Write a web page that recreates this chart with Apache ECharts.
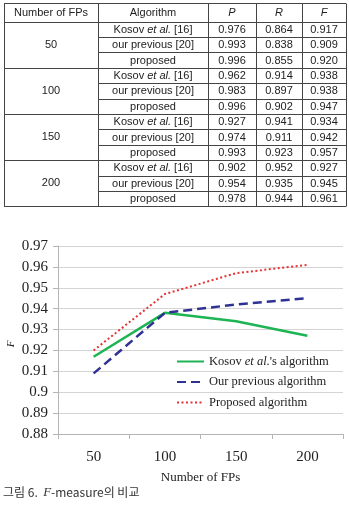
<!DOCTYPE html>
<html><head><meta charset="utf-8">
<script src="https://cdn.jsdelivr.net/npm/echarts@6/dist/echarts.min.js"></script>
<style>html,body{margin:0;padding:0;background:#fff}#c{width:349px;height:512px}</style>
</head><body><div id="c"></div>
<script>
// ---- data ----
const fpCounts = ['50', '100', '150', '200'];
const algoLabels = ['Kosov {i|et al.} [16]', 'our previous [20]', 'proposed'];
const tableP = [[0.976, 0.993, 0.996], [0.962, 0.983, 0.996], [0.927, 0.974, 0.993], [0.902, 0.954, 0.978]];
const tableR = [[0.864, 0.838, 0.855], [0.914, 0.897, 0.902], [0.941, 0.911, 0.923], [0.952, 0.935, 0.944]];
const tableF = [[0.917, 0.909, 0.920], [0.938, 0.938, 0.947], [0.934, 0.942, 0.957], [0.927, 0.945, 0.961]];
const headers = ['Number of FPs', 'Algorithm', 'P', 'R', 'F'];
const kosovF = [0.917, 0.938, 0.934, 0.927];
const previousF = [0.909, 0.938, 0.942, 0.945];
const proposedF = [0.920, 0.947, 0.957, 0.961];
const seriesNames = ['Kosov et al.\'s algorithm', 'Our previous algorithm', 'Proposed algorithm'];
const yTicks = [0.88, 0.89, 0.90, 0.91, 0.92, 0.93, 0.94, 0.95, 0.96, 0.97];
const yAxisName = 'F';

// ---- table layout ----
const colX = [4, 98, 208, 256, 302, 346];
const top0 = 3, headH = 18.5, rowH = 15.4;
const tFont = '11px "Liberation Sans", Arial, sans-serif';
const g = [];
const nRows = fpCounts.length * algoLabels.length;
const bottom = top0 + headH + nRows * rowH;
const lineStyle = { stroke: '#444', lineWidth: 1 };
function hline(x1, x2, y) { g.push({ type: 'line', shape: { x1, y1: Math.round(y) + 0.5, x2, y2: Math.round(y) + 0.5 }, style: lineStyle, silent: true }); }
function vline(x, y1, y2) { g.push({ type: 'line', shape: { x1: x + 0.5, y1: Math.round(y1) + 0.5, x2: x + 0.5, y2: Math.round(y2) + 0.5 }, style: lineStyle, silent: true }); }
function txt(text, cx, cy, italic) {
  g.push({ type: 'text', x: cx, y: cy, silent: true,
    style: { text, font: (italic ? 'italic ' : '') + tFont, fill: '#222', align: 'center', verticalAlign: 'middle',
      rich: { i: { font: 'italic ' + tFont, fill: '#222' } } } });
}
hline(colX[0], colX[5], top0);
hline(colX[0], colX[5], top0 + headH);
colX.forEach(x => vline(x, top0, bottom));
headers.forEach((h, i) => txt(h, (colX[i] + colX[i + 1]) / 2, top0 + headH / 2 + 0.5, i >= 2));
fpCounts.forEach((fp, gi) => {
  const gy = top0 + headH + gi * algoLabels.length * rowH;
  txt(fp, (colX[0] + colX[1]) / 2, gy + rowH * 1.5);
  hline(colX[0], colX[5], gy + algoLabels.length * rowH);
  algoLabels.forEach((a, ai) => {
    const ry = gy + ai * rowH;
    if (ai > 0) hline(colX[1], colX[5], ry);
    const cy = ry + rowH / 2 + 0.5;
    txt(a, (colX[1] + colX[2]) / 2, cy);
    txt(tableP[gi][ai].toFixed(3), (colX[2] + colX[3]) / 2, cy);
    txt(tableR[gi][ai].toFixed(3), (colX[3] + colX[4]) / 2, cy);
    txt(tableF[gi][ai].toFixed(3), (colX[4] + colX[5]) / 2, cy);
  });
});
const serif = '"Liberation Serif", "Times New Roman", serif';
// y-axis title (rotated)
g.push({ type: 'text', x: 11, y: 344, rotation: Math.PI / 2, silent: true,
  style: { text: yAxisName, font: 'italic 11px ' + serif, fill: '#222', align: 'center', verticalAlign: 'middle' } });
// caption
g.push({ type: 'text', left: 3, top: 486, silent: true,
  style: { text: '{k|그림 6.  }{f|F}{k|-measure의 비교}',
    rich: { k: { font: '12px "Noto Sans CJK KR", sans-serif', fill: '#333' },
            f: { font: 'italic 13px "Liberation Serif", serif', fill: '#333' } } } });

const chart = echarts.init(document.getElementById('c'), null, { renderer: 'canvas' });
chart.setOption({
  animation: false,
  backgroundColor: '#fff',
  graphic: g,
  grid: { left: 58, right: 6, top: 246, bottom: 78, containLabel: false, outerBoundsMode: 'none' },
  xAxis: {
    type: 'category', data: fpCounts, boundaryGap: true,
    name: 'Number of FPs', nameLocation: 'middle', nameGap: 37,
    nameTextStyle: { fontFamily: serif, fontSize: 13, color: '#222' },
    axisLine: { lineStyle: { color: '#b5b5b5', width: 1 } },
    axisTick: { show: true, length: 5, lineStyle: { color: '#b5b5b5' } },
    axisLabel: { fontFamily: serif, fontSize: 15, color: '#222', margin: 16 }
  },
  yAxis: {
    type: 'value', min: yTicks[0], max: yTicks[yTicks.length - 1], interval: 0.01,
    axisLine: { show: true, lineStyle: { color: '#b5b5b5', width: 1 } },
    axisTick: { show: true, length: 5, lineStyle: { color: '#b5b5b5' } },
    splitLine: { lineStyle: { color: '#d4d4d4', width: 1 } },
    axisLabel: { fontFamily: serif, fontSize: 15, color: '#222', margin: 10,
      formatter: v => String(+v.toFixed(2)) }
  },
  legend: {
    left: 176, top: 355, padding: 0, orient: 'vertical', itemWidth: 27, itemHeight: 12, itemGap: 7.5,
    itemStyle: { opacity: 0 },
    textStyle: { fontFamily: serif, fontSize: 12.5, color: '#222', rich: { i: { fontFamily: serif, fontSize: 12.5, fontStyle: 'italic', color: '#222' } } },
    formatter: n => n === seriesNames[0] ? 'Kosov {i|et al.}\'s algorithm' : n,
    data: seriesNames
  },
  series: [
    { name: seriesNames[0], type: 'line', data: kosovF, symbol: 'none', lineStyle: { color: '#1db454', width: 2.5 }, itemStyle: { color: '#1db454' } },
    { name: seriesNames[1], type: 'line', data: previousF, symbol: 'none', lineStyle: { color: '#2f3293', width: 2.5, type: [9, 5] }, itemStyle: { color: '#2f3293' } },
    { name: seriesNames[2], type: 'line', data: proposedF, symbol: 'none', lineStyle: { color: '#e53333', width: 2, type: [2, 2.5] }, itemStyle: { color: '#e53333' } }
  ]
});
</script></body></html>
